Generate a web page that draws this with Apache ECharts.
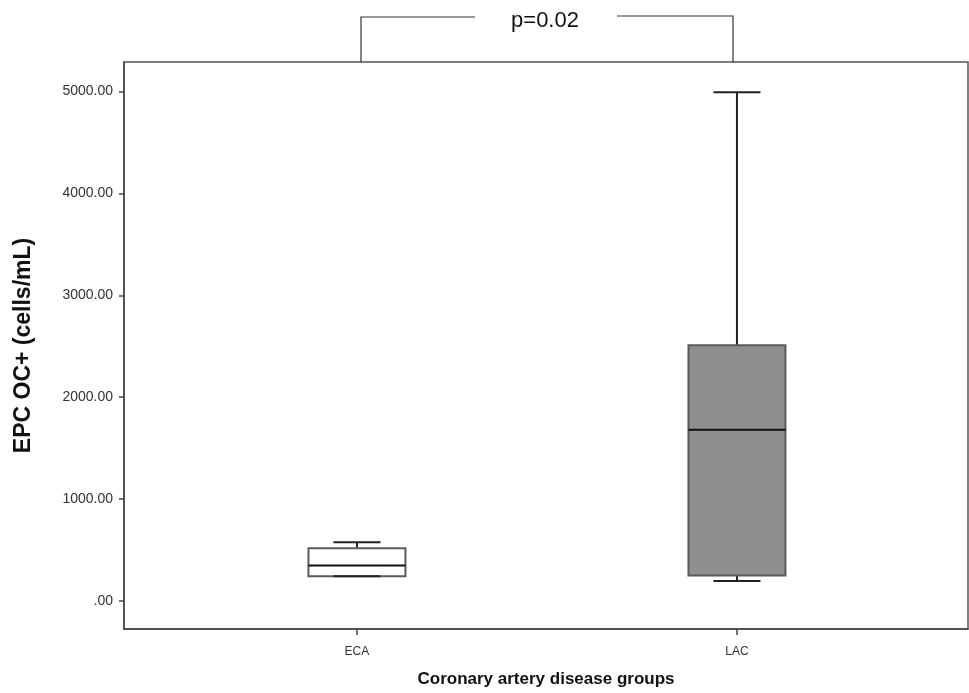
<!DOCTYPE html>
<html>
<head>
<meta charset="utf-8">
<script src="https://cdn.jsdelivr.net/npm/echarts@6/dist/echarts.min.js"></script>
<style>
html,body{margin:0;padding:0;background:#fff;overflow:hidden;}
#chart{width:969px;height:693px;}
</style>
</head>
<body>
<div id="chart"></div>
<script>
// ---- data ----
const categories = ['ECA', 'LAC'];
const categoryPositions = [1, 2];
const minValues = [243, 195];
const q1Values = [243, 250];
const medianValues = [348, 1679];
const q3Values = [516, 2510];
const maxValues = [575, 4993];
const yTicks = [0, 1000, 2000, 3000, 4000, 5000];
const pValueText = 'p=0.02';

// ---- styles ----
const boxFills = ['#ffffff', '#8f8f8f'];

const seriesData = categories.map((c, i) => [
  categoryPositions[i], minValues[i], q1Values[i], medianValues[i], q3Values[i], maxValues[i]
]);

const chart = echarts.init(document.getElementById('chart'));

function renderBox(params, api) {
  const x = api.value(0);
  const unit = api.size([1, 0])[0];
  const halfBox = unit * 0.1276;
  const halfCap = unit * 0.062;
  const pMin = api.coord([x, api.value(1)]);
  const pQ1 = api.coord([x, api.value(2)]);
  const pMed = api.coord([x, api.value(3)]);
  const pQ3 = api.coord([x, api.value(4)]);
  const pMax = api.coord([x, api.value(5)]);
  const cx = pMed[0];
  const lineStyle = { stroke: '#222', lineWidth: 2 };
  return {
    type: 'group',
    children: [
      { type: 'line', shape: { x1: cx, y1: pMax[1], x2: cx, y2: pQ3[1] }, style: lineStyle },
      { type: 'line', shape: { x1: cx, y1: pMin[1], x2: cx, y2: pQ1[1] }, style: lineStyle },
      { type: 'rect', shape: { x: cx - halfBox, y: pQ3[1], width: halfBox * 2, height: pQ1[1] - pQ3[1] },
        style: { fill: boxFills[params.dataIndex], stroke: '#5a5a5a', lineWidth: 2 } },
      { type: 'line', shape: { x1: cx - halfCap, y1: pMax[1], x2: cx + halfCap, y2: pMax[1] }, style: lineStyle },
      { type: 'line', shape: { x1: cx - halfCap, y1: pMin[1], x2: cx + halfCap, y2: pMin[1] }, style: lineStyle },
      { type: 'line', shape: { x1: cx - halfBox, y1: pMed[1], x2: cx + halfBox, y2: pMed[1] },
        style: { stroke: '#111', lineWidth: 2 } }
    ]
  };
}

const option = {
  backgroundColor: '#ffffff',
  animation: false,
  textStyle: { fontFamily: 'Liberation Sans, Arial, sans-serif' },
  grid: {
    left: 124, width: 844, top: 62, height: 572,
    show: true, borderColor: '#555', borderWidth: 1.5, backgroundColor: '#fff'
  },
  xAxis: {
    type: 'value',
    min: 0.387, max: 2.608,
    splitLine: { show: false },
    axisLine: { show: true, onZero: false, lineStyle: { color: '#444', width: 1.5 } },
    axisTick: { show: true, length: 6, customValues: categoryPositions, lineStyle: { color: '#444', width: 1.5 } },
    axisLabel: {
      customValues: categoryPositions,
      formatter: v => categories[categoryPositions.indexOf(v)] || '',
      fontSize: 12, color: '#333', margin: 17
    },
    name: 'Coronary artery disease groups',
    nameLocation: 'middle', nameGap: 42,
    nameTextStyle: { fontSize: 17, fontWeight: 'bold', color: '#111' }
  },
  yAxis: {
    type: 'value',
    min: -276, max: 5290,
    splitLine: { show: false },
    axisLine: { show: true, onZero: false, lineStyle: { color: '#444', width: 1.5 } },
    axisTick: { show: true, length: 5, customValues: yTicks, lineStyle: { color: '#444', width: 1.5 } },
    axisLabel: {
      customValues: yTicks,
      formatter: v => (v === 0 ? '.00' : v.toFixed(2)),
      fontSize: 14, color: '#333', margin: 11
    },
    name: 'EPC OC+ (cells/mL)',
    nameLocation: 'middle', nameGap: 89,
    nameTextStyle: { fontSize: 23, fontWeight: 'bold', color: '#111' }
  },
  series: [{
    type: 'custom',
    renderItem: renderBox,
    data: seriesData,
    encode: { x: 0, y: [1, 2, 3, 4, 5] },
    clip: false
  }],
  graphic: [
    { type: 'polyline', shape: { points: [[361, 62], [361, 17], [475, 17]] }, style: { stroke: '#333', lineWidth: 1.2, fill: null } },
    { type: 'polyline', shape: { points: [[617, 16], [733, 16], [733, 62]] }, style: { stroke: '#333', lineWidth: 1.2, fill: null } },
    { type: 'text', x: 545, y: 21, style: { text: pValueText, fontSize: 22, fill: '#111', align: 'center', verticalAlign: 'middle', fontFamily: 'Liberation Sans, Arial, sans-serif' } }
  ]
};
chart.setOption(option);
</script>
</body>
</html>
